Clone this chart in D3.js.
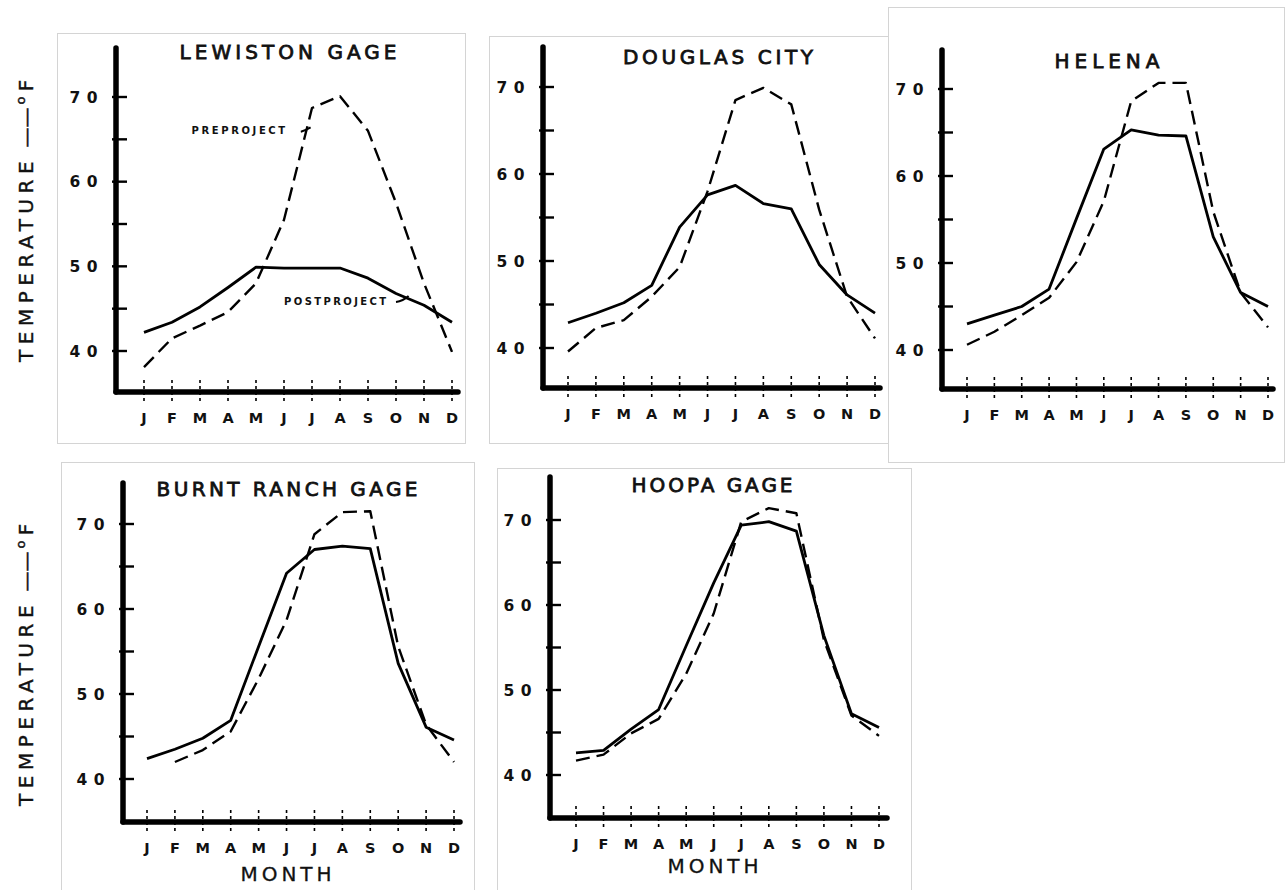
<!DOCTYPE html>
<html>
<head>
<meta charset="utf-8">
<script src="https://cdn.jsdelivr.net/npm/d3@7"></script>
<style>
  html, body { margin: 0; padding: 0; background: #fff; }
  svg { display: block; }
  text { font-family: "DejaVu Sans", sans-serif; fill: #111; }
</style>
</head>
<body>
<svg id="chart" width="1288" height="890"></svg>
<script>
// Month letters along each x axis
const months = ["J", "F", "M", "A", "M", "J", "J", "A", "S", "O", "N", "D"];
// Labelled and unlabelled temperature ticks (°F)
const majorTicks = [40, 50, 60, 70];
const minorTicks = [45, 55, 65];

// Station names
const stations = ["LEWISTON GAGE", "DOUGLAS CITY", "HELENA", "BURNT RANCH GAGE", "HOOPA GAGE"];

// Mean monthly water temperature, preproject (dashed) and postproject (solid)
const lewistonPre  = [38.1, 41.5, 43.0, 44.6, 48.0, 55.5, 68.7, 70.1, 66.0, 57.5, 48.0, 39.9];
const lewistonPost = [42.2, 43.4, 45.2, 47.5, 49.9, 49.8, 49.8, 49.8, 48.6, 46.8, 45.4, 43.4];

const douglasPre   = [39.6, 42.3, 43.2, 45.9, 49.3, 58.0, 68.5, 69.9, 68.0, 55.9, 45.9, 41.1];
const douglasPost  = [42.9, 44.0, 45.2, 47.2, 53.9, 57.6, 58.7, 56.6, 56.0, 49.6, 46.1, 44.0];

const helenaPre    = [40.6, 42.1, 44.0, 46.0, 50.1, 57.1, 68.6, 70.7, 70.7, 55.9, 46.6, 42.6];
const helenaPost   = [43.0, 44.0, 45.0, 47.0, 55.1, 63.1, 65.3, 64.7, 64.6, 53.0, 46.6, 45.0];

const burntPre     = [null, 42.0, 43.4, 45.6, 51.8, 58.7, 68.8, 71.4, 71.5, 55.6, 46.4, 42.0];
const burntPost    = [42.4, 43.5, 44.8, 46.9, 55.6, 64.2, 67.0, 67.4, 67.1, 53.6, 46.1, 44.6];

const hoopaPre     = [41.7, 42.4, 44.9, 46.6, 51.9, 59.0, 69.8, 71.4, 70.8, 55.9, 47.0, 44.6];
const hoopaPost    = [42.6, 42.9, 45.4, 47.7, 55.2, 62.6, 69.4, 69.8, 68.7, 56.4, 47.2, 45.6];

const preSeries  = [lewistonPre, douglasPre, helenaPre, burntPre, hoopaPre];
const postSeries = [lewistonPost, douglasPost, helenaPost, burntPost, hoopaPost];

// Placement of each pasted-up sheet on the page
const layout = [
  { frame: [57, 33, 465, 443],  ax: 116, top: 48,  ay: 392, right: 458, y40: 351, y70: 97,  xJ: 144, xD: 452, tx: 288, ty: 59,  tw: 217, month: false },
  { frame: [489, 36, 888, 443], ax: 543, top: 47,  ay: 388, right: 880, y40: 348, y70: 87,  xJ: 568, xD: 875, tx: 718, ty: 64,  tw: 190, month: false },
  { frame: [888, 7, 1284, 462], ax: 942, top: 50,  ay: 389, right: 1273, y40: 350, y70: 89, xJ: 967, xD: 1268, tx: 1107, ty: 68, tw: 105, month: false },
  { frame: [61, 462, 474, 892], ax: 123, top: 483, ay: 822, right: 460, y40: 779, y70: 524, xJ: 147, xD: 454, tx: 287, ty: 496, tw: 261, month: true, mx: 288, my: 881 },
  { frame: [497, 468, 911, 892], ax: 550, top: 477, ay: 818, right: 887, y40: 775, y70: 520, xJ: 576, xD: 879, tx: 712, ty: 492, tw: 161, month: true, mx: 715, my: 873 }
];

const svg = d3.select("#chart");

// paper sheets first, so later sheets overlap earlier edges
layout.forEach(L => {
  const [x0, y0, x1, y1] = L.frame;
  svg.append("rect")
    .attr("x", x0 + 0.5).attr("y", y0 + 0.5)
    .attr("width", x1 - x0).attr("height", y1 - y0)
    .attr("fill", "#fff").attr("stroke", "#d4d4d4").attr("stroke-width", 1);
});

layout.forEach((L, i) => {
  const g = svg.append("g");
  const x = d3.scaleLinear().domain([0, months.length - 1]).range([L.xJ, L.xD]);
  const y = d3.scaleLinear().domain([40, 70]).range([L.y40, L.y70]);

  // axes: heavy inked lines
  g.append("line").attr("x1", L.ax).attr("x2", L.ax).attr("y1", L.top).attr("y2", L.ay)
    .attr("stroke", "#000").attr("stroke-width", 5.5).attr("stroke-linecap", "round");
  g.append("line").attr("x1", L.ax).attr("x2", L.right).attr("y1", L.ay).attr("y2", L.ay)
    .attr("stroke", "#000").attr("stroke-width", 5.5).attr("stroke-linecap", "round");

  // y ticks crossing the axis
  g.selectAll(".yt").data(majorTicks.concat(minorTicks)).join("line")
    .attr("x1", L.ax - 4).attr("x2", L.ax + 11)
    .attr("y1", d => y(d)).attr("y2", d => y(d))
    .attr("stroke", "#000").attr("stroke-width", 2.4);

  g.selectAll(".yl").data(majorTicks).join("text")
    .attr("x", L.ax - 12).attr("y", d => y(d) + 5.5)
    .attr("text-anchor", "end")
    .attr("font-size", 15.5).attr("font-weight", "bold")
    .attr("letter-spacing", 6.5)
    .text(d => d);

  // x ticks: broken short marks through the axis
  g.selectAll(".xt").data(months).join("line")
    .attr("x1", (d, k) => x(k)).attr("x2", (d, k) => x(k))
    .attr("y1", L.ay - 12).attr("y2", L.ay + 11)
    .attr("stroke", "#000").attr("stroke-width", 1.6)
    .attr("stroke-dasharray", "3,3");

  g.selectAll(".xl").data(months).join("text")
    .attr("x", (d, k) => x(k)).attr("y", L.ay + 31)
    .attr("text-anchor", "middle")
    .attr("font-size", 14.5).attr("font-weight", "bold")
    .text(d => d);

  // station title
  g.append("text")
    .attr("x", L.tx - L.tw / 2).attr("y", L.ty)
    .attr("font-size", 20)
    .attr("stroke", "#111").attr("stroke-width", 0.8)
    .attr("textLength", L.tw).attr("lengthAdjust", "spacing")
    .text(stations[i]);

  const line = d3.line()
    .defined(d => d != null)
    .x((d, k) => x(k))
    .y(d => y(d));

  g.append("path").datum(preSeries[i])
    .attr("d", line)
    .attr("fill", "none").attr("stroke", "#000").attr("stroke-width", 2.4)
    .attr("stroke-dasharray", "14,7").attr("stroke-linejoin", "round");

  g.append("path").datum(postSeries[i])
    .attr("d", line)
    .attr("fill", "none").attr("stroke", "#000").attr("stroke-width", 2.8)
    .attr("stroke-linejoin", "round");

  // series labels with leaders (first panel only)
  if (i === 0) {
    g.append("text").attr("x", x(1.7)).attr("y", y(65.6))
      .attr("font-size", 10).attr("font-weight", "bold").attr("letter-spacing", 2.6)
      .text("PREPROJECT");
    g.append("path")
      .attr("d", `M${x(5.6)},${y(65.9)} Q${x(5.75)},${y(66.0)} ${x(5.95)},${y(66.4)}`)
      .attr("fill", "none").attr("stroke", "#000").attr("stroke-width", 2);
    g.append("text").attr("x", x(5.0)).attr("y", y(45.4))
      .attr("font-size", 10).attr("font-weight", "bold").attr("letter-spacing", 2.4)
      .text("POSTPROJECT");
    g.append("path")
      .attr("d", `M${x(9.0)},${y(45.8)} Q${x(9.25)},${y(45.9)} ${x(9.45)},${y(46.5)}`)
      .attr("fill", "none").attr("stroke", "#000").attr("stroke-width", 2);
  }

  if (L.month) {
    g.append("text").attr("x", L.mx).attr("y", L.my)
      .attr("text-anchor", "middle").attr("font-size", 20)
      .attr("stroke", "#111").attr("stroke-width", 0.3)
      .attr("letter-spacing", 4)
      .text("MONTH");
  }
});

// shared y-axis titles, one per row
[218, 662].forEach(cy => {
  const t = svg.append("text")
    .attr("transform", `translate(33,${cy}) rotate(-90)`)
    .attr("text-anchor", "middle")
    .attr("font-size", 20)
    .attr("stroke", "#111").attr("stroke-width", 0.4)
    .attr("letter-spacing", 5.5);
  t.append("tspan").text("TEMPERATURE");
  t.append("tspan").attr("letter-spacing", 0).attr("dx", 2).text(" ——");
  t.append("tspan").attr("font-size", 13).attr("dy", -8).attr("dx", 3).text("o");
  t.append("tspan").attr("dy", 8).text("F");
});
</script>
</body>
</html>
